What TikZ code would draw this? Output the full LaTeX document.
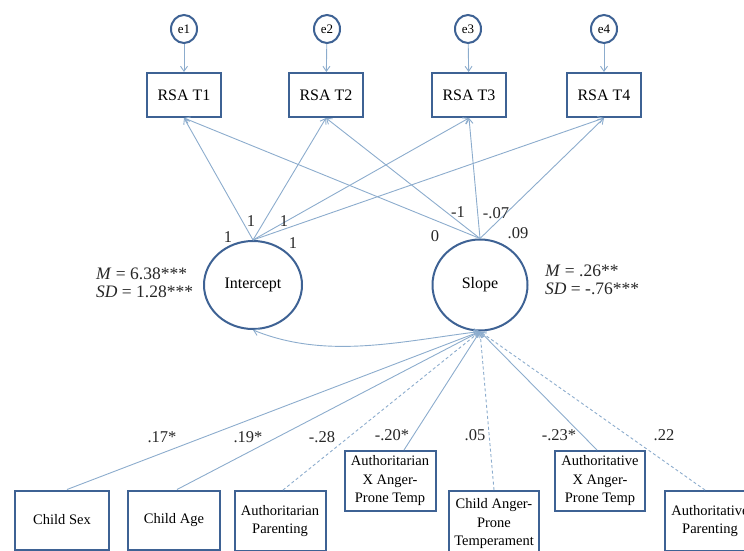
\documentclass[tikz,border=0pt]{standalone}
\usepackage{fontspec}
\setmainfont{Liberation Serif}
\usetikzlibrary{arrows.meta,shapes.geometric}
\definecolor{lnc}{RGB}{140,172,205}
\definecolor{bdc}{RGB}{62,98,148}
\begin{document}
\begin{tikzpicture}[x=1pt,y=-1pt,
 obs/.style={draw=bdc,line width=2pt,rectangle,align=center,inner sep=1pt,font=\fontsize{14.5}{18.5}\selectfont},
 rsa/.style={draw=bdc,line width=2pt,rectangle,minimum width=74pt,minimum height=44pt,font=\fontsize{16}{19}\selectfont},
 err/.style={draw=bdc,line width=2pt,ellipse,minimum width=26pt,minimum height=28pt,inner sep=0pt,font=\fontsize{13}{15}\selectfont},
 lat/.style={draw=bdc,line width=2pt,ellipse,inner sep=0pt,font=\fontsize{16}{18}\selectfont},
 conn/.style={draw=lnc,line width=0.9pt,-{Straight Barb[length=5pt,width=7pt]}},
 dconn/.style={conn,dash pattern=on 3pt off 2.5pt},
 lab/.style={font=\fontsize{16.5}{18}\selectfont,text=black!85,inner sep=0pt}
]
\useasboundingbox (0,0) rectangle (744,551);
\clip (0,0) rectangle (744,551);
% error terms
\node[err] (e1) at (184,29) {e1};
\node[err] (e2) at (327,29) {e2};
\node[err] (e3) at (468,29) {e3};
\node[err] (e4) at (604,29) {e4};
% RSA boxes
\node[rsa] (t1) at (184,95) {RSA T1};
\node[rsa] (t2) at (326,95) {RSA T2};
\node[rsa] (t3) at (469,95) {RSA T3};
\node[rsa] (t4) at (604,95) {RSA T4};
% latent
\node[lat,minimum width=98pt,minimum height=88pt] (int) at (253,285) {Intercept};
\node[lat,minimum width=95pt,minimum height=91pt] (slope) at (480,285) {Slope};
% predictors
\node[obs,minimum width=94pt,minimum height=59pt] (cs) at (62,520) {Child Sex};
\node[obs,minimum width=92pt,minimum height=59pt] (ca) at (174,520) {Child Age};
\node[obs,minimum width=91pt,minimum height=60pt] (ap) at (280,521) {Authoritarian\\Parenting};
\node[obs,minimum width=91pt,minimum height=60pt] (ax) at (390,481) {Authoritarian\\X Anger-\\Prone Temp};
\node[obs,minimum width=90pt,minimum height=66pt] (cat) at (494,524) {Child Anger-\\Prone\\Temperament};
\node[obs,minimum width=90pt,minimum height=60pt] (atx) at (600,481) {Authoritative\\X Anger-\\Prone Temp};
\node[obs,minimum width=90pt,minimum height=60pt] (atp) at (710,521) {Authoritative\\Parenting};
% e arrows
\foreach \i in {1,2,3,4} \draw[conn] (e\i) -- (t\i);
% loadings
\foreach \i in {1,2,3,4} {
  \draw[conn] (int.north) -- (t\i.south);
  \draw[conn] (slope.north) -- (t\i.south);
}
% loading labels
\node[lab] (l1) at (228,237) {1};
\node[lab] (l2) at (251,221) {1};
\node[lab] (l3) at (284,221) {1};
\node[lab] (l4) at (293,243) {1};
\node[lab] (s1) at (435,236) {0};
\node[lab] (s2) at (458,212) {-1};
\node[lab] (s3) at (496,213) {-.07};
\node[lab] (s4) at (518,233) {.09};
% means
\node[lab,anchor=west,align=left,font=\fontsize{17.5}{17.5}\selectfont] (mi) at (96,283) {\textit{M} = 6.38***\\\textit{SD} = 1.28***};
\node[lab,anchor=west,align=left,font=\fontsize{17.5}{17.5}\selectfont] (ms) at (545,280) {\textit{M} = .26**\\\textit{SD} = -.76***};
% covariance
\draw[draw=lnc,line width=0.9pt,{Straight Barb[length=5pt,width=7pt]}-{Straight Barb[length=5pt,width=7pt]}] (int.south) to[out=-22,in=187,looseness=0.9] (slope.south);
% predictor paths
\draw[conn] ([xshift=5pt]cs.north) -- (slope.south);
\draw[conn] ([xshift=3pt]ca.north) -- (slope.south);
\draw[dconn] ([xshift=3pt]ap.north) -- (slope.south);
\draw[conn] ([xshift=14pt]ax.north) -- (slope.south);
\draw[dconn] (cat.north) -- (slope.south);
\draw[conn] ([xshift=-3pt]atx.north) -- (slope.south);
\draw[dconn] ([xshift=-5pt]atp.north) -- (slope.south);
% predictor labels
\node[lab] (p1) at (162,437) {.17*};
\node[lab] (p2) at (248,437) {.19*};
\node[lab] (p3) at (322,437) {-.28};
\node[lab] (p4) at (392,435) {-.20*};
\node[lab] (p5) at (475,435) {.05};
\node[lab] (p6) at (559,435) {-.23*};
\node[lab] (p7) at (664,435) {.22};
\end{tikzpicture}
\end{document}
